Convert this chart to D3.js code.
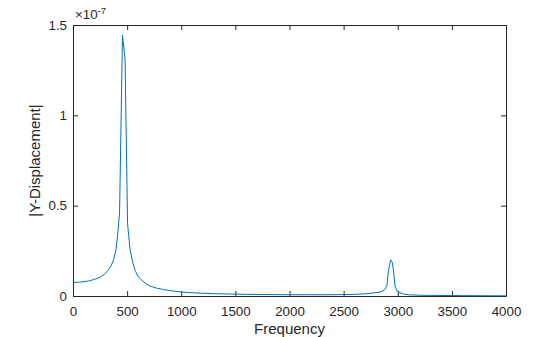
<!DOCTYPE html>
<html>
<head>
<meta charset="utf-8">
<script src="https://cdn.jsdelivr.net/npm/d3@7"></script>
<style>
  body { margin: 0; background: #fff; }
  svg text { font-family: "Liberation Sans", Arial, sans-serif; fill: #262626; }
</style>
</head>
<body>
<div id="chart"></div>
<script>
// frequency samples (Hz) and |Y| amplitude in units of 1e-7
const freqs = [0, 50, 100, 150, 200, 250, 290, 320, 350, 375, 395, 410, 430, 457, 481, 504, 527, 550, 575, 600, 630, 670, 711, 770, 835, 920, 1004, 1100, 1200, 1300, 1450, 1600, 1800, 2000, 2200, 2400, 2600, 2700, 2790, 2840, 2882, 2900, 2913, 2935, 2950, 2960, 2975, 2993, 3021, 3060, 3100, 3200, 3400, 3600, 3800, 4000];
const amps = [0.075, 0.076, 0.079, 0.084, 0.092, 0.104, 0.12, 0.14, 0.165, 0.2, 0.25, 0.32, 0.46, 1.445, 1.31, 0.4, 0.26, 0.19, 0.14, 0.11, 0.09, 0.07, 0.055, 0.044, 0.036, 0.028, 0.022, 0.018, 0.015, 0.013, 0.011, 0.009, 0.008, 0.007, 0.007, 0.007, 0.009, 0.012, 0.018, 0.022, 0.036, 0.06, 0.137, 0.2, 0.185, 0.145, 0.055, 0.028, 0.018, 0.01, 0.007, 0.004, 0.003, 0.002, 0.0015, 0.001];
const yExponent = -7;

const xTicks = [0, 500, 1000, 1500, 2000, 2500, 3000, 3500, 4000];
const yTicks = [0, 0.5, 1, 1.5];
const yTickLabels = ["0", "0.5", "1", "1.5"];

const width = 560, height = 337;
const margin = {left: 73, right: 54, top: 25, bottom: 41};

const svg = d3.select("#chart").append("svg")
    .attr("width", width)
    .attr("height", height);

const x = d3.scaleLinear().domain([0, 4000]).range([margin.left, width - margin.right]);
const y = d3.scaleLinear().domain([0, 1.5]).range([height - margin.bottom, margin.top]);

const axisColor = "#262626";
const tickFont = "13.33px";

function styleAxis(g) {
    g.selectAll("path.domain").attr("stroke", axisColor).attr("stroke-width", 1);
    g.selectAll(".tick line").attr("stroke", axisColor);
    g.selectAll(".tick text").style("font-size", tickFont).attr("fill", axisColor);
}

// bottom
svg.append("g")
    .attr("transform", `translate(0,${y(0)})`)
    .call(d3.axisBottom(x).tickValues(xTicks).tickFormat(d3.format("d")).tickSize(-5).tickSizeOuter(0).tickPadding(11))
    .call(styleAxis);

// top (ticks only)
svg.append("g")
    .attr("transform", `translate(0,${y(1.5)})`)
    .call(d3.axisTop(x).tickValues(xTicks).tickFormat("").tickSize(-5).tickSizeOuter(0))
    .call(styleAxis);

// left
svg.append("g")
    .attr("transform", `translate(${x(0)},0)`)
    .call(d3.axisLeft(y).tickValues(yTicks).tickFormat((d, i) => yTickLabels[i]).tickSize(-5).tickSizeOuter(0).tickPadding(6))
    .call(styleAxis);

// right (ticks only)
svg.append("g")
    .attr("transform", `translate(${x(4000)},0)`)
    .call(d3.axisRight(y).tickValues(yTicks).tickFormat("").tickSize(-5).tickSizeOuter(0))
    .call(styleAxis);

const data = freqs.map((f, i) => ({f: f, a: amps[i]}));

const line = d3.line()
    .x(d => x(d.f))
    .y(d => y(d.a));

svg.append("path")
    .datum(data)
    .attr("fill", "none")
    .attr("stroke", "#0072BD")
    .attr("stroke-width", 1)
    .attr("stroke-linejoin", "round")
    .attr("d", line);

// exponent label
const exp = svg.append("text")
    .attr("x", x(0) + 2)
    .attr("y", 19)
    .style("font-size", tickFont);
exp.append("tspan").text("\u00d710");
exp.append("tspan").attr("dy", -5).style("font-size", "9.5px").text(yExponent);

// axis labels
svg.append("text")
    .attr("x", (x(0) + x(4000)) / 2)
    .attr("y", 334)
    .attr("text-anchor", "middle")
    .style("font-size", "15px")
    .text("Frequency");

svg.append("text")
    .attr("transform", `translate(40,${(y(0) + y(1.5)) / 2}) rotate(-90)`)
    .attr("text-anchor", "middle")
    .style("font-size", "15px")
    .text("|Y-Displacement|");
</script>
</body>
</html>
